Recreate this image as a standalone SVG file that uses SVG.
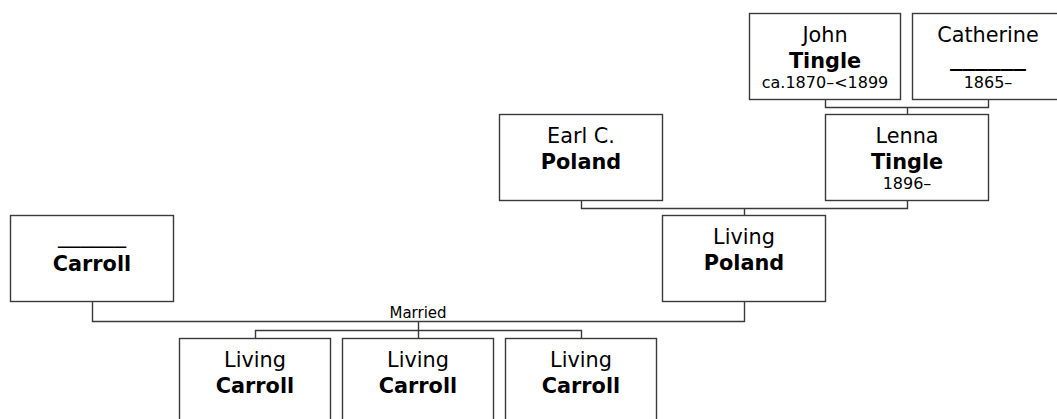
<svg xmlns="http://www.w3.org/2000/svg" width="1057" height="419" viewBox="0 0 1057 419">
<style>
.box{fill:#fff;stroke:#3a3a3a;stroke-width:1.4}
.con{fill:none;stroke:#3a3a3a;stroke-width:1.4}
text{font-family:"DejaVu Sans",Verdana,sans-serif;fill:#000;text-anchor:middle}
.n{font-size:20.8px}
.b{font-size:20.8px;font-weight:bold}
.d{font-size:16px}
.m{font-size:15px}
</style>
<rect width="1057" height="419" fill="#fff"/>
<g id="connectors">
<path class="con" d="M825.5 99.5V107.5H988.5V99.5M907.5 107.5V114.5"/>
<path class="con" d="M581.5 200.5V208.5H907.5V200.5M744.5 208.5V215.5"/>
<path class="con" d="M92.5 301.5V321.5H744.5V301.5M418.5 321.5V338.5M255.5 338.5V330.5H581.5V338.5"/>
<text class="m" x="418" y="318">Married</text>
</g>
<g id="john">
<rect class="box" x="749.5" y="13.5" width="151" height="86"/>
<text class="n" x="825" y="41.5">John</text>
<text class="b" x="825" y="68">Tingle</text>
<text class="d" x="825" y="88">ca.1870–&lt;1899</text>
</g>
<g id="catherine">
<rect class="box" x="912.5" y="13.5" width="151" height="86"/>
<text class="n" x="988" y="41.5">Catherine</text>
<text class="b" x="988" y="66" textLength="76" lengthAdjust="spacingAndGlyphs">______</text>
<text class="d" x="988" y="88">1865–</text>
</g>
<g id="earl">
<rect class="box" x="499.5" y="114.5" width="163" height="86"/>
<text class="n" x="581" y="142.5">Earl C.</text>
<text class="b" x="581" y="169">Poland</text>
</g>
<g id="lenna">
<rect class="box" x="825.5" y="114.5" width="163" height="86"/>
<text class="n" x="907" y="142.5">Lenna</text>
<text class="b" x="907" y="169">Tingle</text>
<text class="d" x="907" y="189">1896–</text>
</g>
<g id="carroll">
<rect class="box" x="10.5" y="215.5" width="163" height="86"/>
<text class="n" x="92" y="242.5" textLength="68" lengthAdjust="spacingAndGlyphs">______</text>
<text class="b" x="92" y="270.5">Carroll</text>
</g>
<g id="living-poland">
<rect class="box" x="662.5" y="215.5" width="163" height="86"/>
<text class="n" x="744" y="244">Living</text>
<text class="b" x="744" y="270">Poland</text>
</g>
<g id="child1">
<rect class="box" x="179.5" y="338.5" width="151" height="86"/>
<text class="n" x="255" y="367">Living</text>
<text class="b" x="255" y="393">Carroll</text>
</g>
<g id="child2">
<rect class="box" x="342.5" y="338.5" width="151" height="86"/>
<text class="n" x="418" y="367">Living</text>
<text class="b" x="418" y="393">Carroll</text>
</g>
<g id="child3">
<rect class="box" x="505.5" y="338.5" width="151" height="86"/>
<text class="n" x="581" y="367">Living</text>
<text class="b" x="581" y="393">Carroll</text>
</g>
</svg>
